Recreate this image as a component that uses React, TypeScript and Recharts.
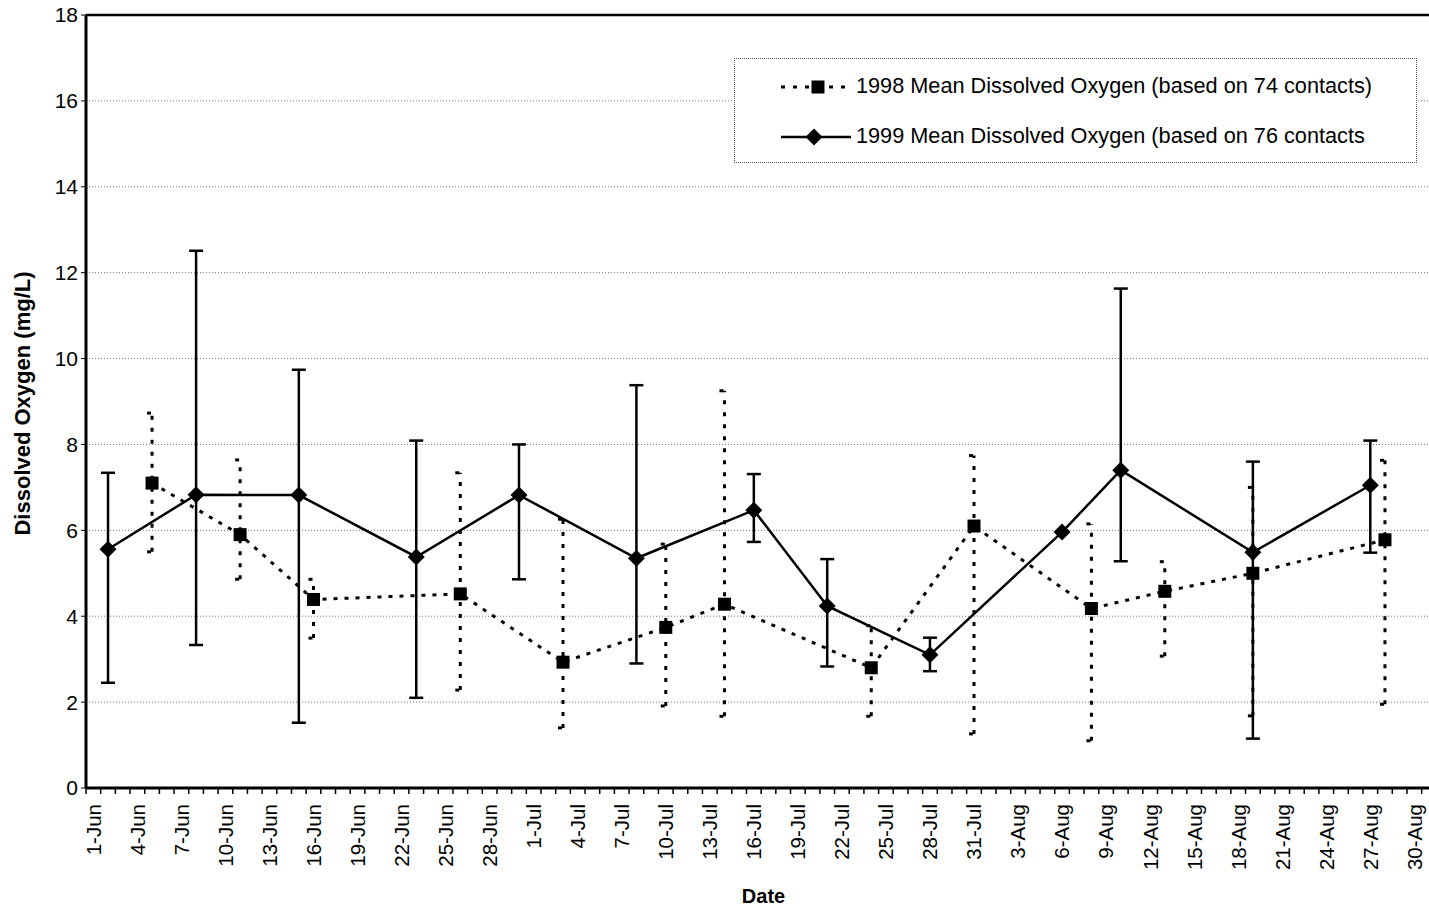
import React from 'react';
import {
  LineChart,
  Line,
  XAxis,
  YAxis,
  CartesianGrid,
  ErrorBar,
  ReferenceLine,
  Legend,
} from 'recharts';

// Date labels along the x axis, one every third day starting 1 June
const TICK_LABELS = [
  '1-Jun', '4-Jun', '7-Jun', '10-Jun', '13-Jun', '16-Jun', '19-Jun', '22-Jun', '25-Jun', '28-Jun',
  '1-Jul', '4-Jul', '7-Jul', '10-Jul', '13-Jul', '16-Jul', '19-Jul', '22-Jul', '25-Jul', '28-Jul', '31-Jul',
  '3-Aug', '6-Aug', '9-Aug', '12-Aug', '15-Aug', '18-Aug', '21-Aug', '24-Aug', '27-Aug', '30-Aug',
];

// Days are counted from 1 June (day 0)
const DAYS_1998 = [4, 10, 15, 25, 32, 39, 43, 53, 60, 68, 73, 79, 88];
const MEAN_1998 = [7.1, 5.9, 4.39, 4.52, 2.93, 3.74, 4.28, 2.8, 6.1, 4.18, 4.58, 5.0, 5.78];
const LOW_1998 = [5.5, 4.86, 3.49, 2.28, 1.4, 1.91, 1.67, 1.67, 1.26, 1.1, 3.07, 1.68, 1.95];
const HIGH_1998 = [8.73, 7.64, 4.86, 7.34, 6.26, 5.68, 9.25, 3.78, 7.74, 6.15, 5.27, 7.0, 7.63];

const DAYS_1999 = [1, 7, 14, 22, 29, 37, 45, 50, 57, 66, 70, 79, 87];
const MEAN_1999 = [5.56, 6.83, 6.82, 5.38, 6.82, 5.35, 6.47, 4.24, 3.1, 5.96, 7.4, 5.49, 7.05];
const LOW_1999 = [2.45, 3.33, 1.52, 2.1, 4.86, 2.9, 5.73, 2.83, 2.72, 5.96, 5.28, 1.15, 5.48];
const HIGH_1999 = [7.34, 12.51, 9.74, 8.09, 8.0, 9.38, 7.31, 5.33, 3.5, 5.96, 11.63, 7.6, 8.09];

const Y_TICKS = [0, 2, 4, 6, 8, 10, 12, 14, 16, 18];

const LABEL_1998 = '1998 Mean Dissolved Oxygen (based on 74 contacts)';
const LABEL_1999 = '1999 Mean Dissolved Oxygen (based on 76 contacts';

const FONT = 'Arial, "Liberation Sans", Helvetica, sans-serif';
const CHART_W = 1429;
const CHART_H = 910;
const Y_AXIS_W = 86;
const X_AXIS_H = 122;
const TOP = 15;
const X_MIN = -0.5;
const X_MAX = 91;
const DAY_PX = (CHART_W - Y_AXIS_W) / (X_MAX - X_MIN);

type Point = { day: number; value: number; err: [number, number] };

function buildSeries(days: number[], mean: number[], low: number[], high: number[]): Point[] {
  return days.map((day, i) => ({
    day,
    value: mean[i],
    err: [mean[i] - low[i], high[i] - mean[i]],
  }));
}

const series1998 = buildSeries(DAYS_1998, MEAN_1998, LOW_1998, HIGH_1998);
const series1999 = buildSeries(DAYS_1999, MEAN_1999, LOW_1999, HIGH_1999);

// one tick per day; labels only on every third day
const DAY_TICKS = Array.from({ length: 92 }, (_, i) => i);

const SquareDot = (props: any) => {
  const { cx, cy } = props;
  if (cx == null || cy == null) return null;
  return <rect x={cx - 6.5} y={cy - 6.5} width={13} height={13} fill="#000" />;
};

const DiamondDot = (props: any) => {
  const { cx, cy } = props;
  if (cx == null || cy == null) return null;
  const r = 8.5;
  return (
    <polygon
      points={`${cx},${cy - r} ${cx + r},${cy} ${cx},${cy + r} ${cx - r},${cy}`}
      fill="#000"
    />
  );
};

const DateTick = (props: any) => {
  const { x, y, payload } = props;
  const d = payload.value as number;
  const tx = x - DAY_PX / 2;
  const label = d % 3 === 0 ? TICK_LABELS[d / 3] : undefined;
  const ly = y + 16;
  return (
    <g>
      <line x1={tx} y1={y} x2={tx} y2={y + 6} stroke="#000" strokeWidth={1.5} />
      {label && (
        <text
          x={x}
          y={ly}
          transform={`rotate(-90 ${x} ${ly})`}
          textAnchor="end"
          dy="0.36em"
          fontFamily={FONT}
          fontSize={20.5}
          fill="#000"
        >
          {label}
        </text>
      )}
    </g>
  );
};

const YTitle = (props: any) => {
  const { viewBox } = props;
  const cx = viewBox.x + 22;
  const cy = viewBox.y + viewBox.height / 2 + 2;
  return (
    <text
      x={cx}
      y={cy}
      transform={`rotate(-90 ${cx} ${cy})`}
      textAnchor="middle"
      dominantBaseline="central"
      fontFamily={FONT}
      fontSize={22}
      fontWeight="bold"
      fill="#000"
    >
      Dissolved Oxygen (mg/L)
    </text>
  );
};

const XTitle = (props: any) => {
  const { viewBox } = props;
  const cx = viewBox.x + viewBox.width / 2 + 6;
  return (
    <text
      x={cx}
      y={CHART_H - 7}
      textAnchor="middle"
      fontFamily={FONT}
      fontSize={20}
      fontWeight="bold"
      fill="#000"
    >
      Date
    </text>
  );
};

const LegendBox = () => (
  <div
    style={{
      position: 'relative',
      width: 683,
      height: 105,
      boxSizing: 'border-box',
      border: '1px dotted #555',
      background: '#fff',
      fontFamily: FONT,
      fontSize: 21.7,
      color: '#000',
    }}
  >
    <svg width={76} height={24} style={{ position: 'absolute', left: 44, top: 16 }}>
      <line x1={2} y1={12} x2={74} y2={12} stroke="#000" strokeWidth={3} strokeDasharray="4 8" />
      <rect x={32.5} y={5.5} width={13} height={13} fill="#000" />
    </svg>
    <div style={{ position: 'absolute', left: 121, top: 14, whiteSpace: 'nowrap', lineHeight: '26px' }}>
      {LABEL_1998}
    </div>
    <svg width={76} height={24} style={{ position: 'absolute', left: 44, top: 66 }}>
      <line x1={2} y1={12} x2={72} y2={12} stroke="#000" strokeWidth={2.5} />
      <polygon points="35,3.5 43.5,12 35,20.5 26.5,12" fill="#000" />
    </svg>
    <div style={{ position: 'absolute', left: 121, top: 64, whiteSpace: 'nowrap', lineHeight: '26px' }}>
      {LABEL_1999}
    </div>
  </div>
);

export default function App() {
  return (
    <div style={{ position: 'absolute', left: 0, top: 0, width: CHART_W, height: CHART_H, background: '#fff' }}>
      <LineChart
        width={CHART_W}
        height={CHART_H}
        margin={{ top: TOP, right: 0, bottom: 0, left: 0 }}
      >
        <CartesianGrid horizontal vertical={false} stroke="#777" strokeDasharray="1 2" strokeWidth={1} />
        <XAxis
          type="number"
          dataKey="day"
          domain={[X_MIN, X_MAX]}
          ticks={DAY_TICKS}
          interval={0}
          allowDataOverflow
          height={X_AXIS_H}
          tickSize={0}
          tickMargin={0}
          tickLine={false}
          tick={<DateTick />}
          axisLine={{ stroke: '#000', strokeWidth: 3 }}
          label={<XTitle />}
        />
        <YAxis
          type="number"
          domain={[0, 18]}
          ticks={Y_TICKS}
          interval={0}
          width={Y_AXIS_W}
          tickSize={5}
          tickMargin={3}
          tickLine={{ stroke: '#000', strokeWidth: 1 }}
          axisLine={{ stroke: '#000', strokeWidth: 3 }}
          tick={{ fill: '#000', fontSize: 21, fontFamily: FONT }}
          label={<YTitle />}
        />
        <ReferenceLine y={18} stroke="#000" strokeWidth={2.5} />
        <Legend
          layout="vertical"
          verticalAlign="middle"
          align="center"
          content={<LegendBox />}
          wrapperStyle={{ left: 734, top: 58, width: 683, height: 105 }}
        />
        <Line
          data={series1998}
          dataKey="value"
          name={LABEL_1998}
          stroke="#000"
          strokeWidth={3}
          strokeDasharray="4 7"
          dot={(p: any) => <SquareDot key={`s-${p.index}`} {...p} />}
          activeDot={false}
          isAnimationActive={false}
        >
          <ErrorBar
            dataKey="err"
            direction="y"
            width={5}
            stroke="#000"
            strokeWidth={3}
            strokeDasharray="4 8"
            isAnimationActive={false}
          />
        </Line>
        <Line
          data={series1999}
          dataKey="value"
          name={LABEL_1999}
          stroke="#000"
          strokeWidth={2.5}
          dot={(p: any) => <DiamondDot key={`d-${p.index}`} {...p} />}
          activeDot={false}
          isAnimationActive={false}
        >
          <ErrorBar
            dataKey="err"
            direction="y"
            width={7}
            stroke="#000"
            strokeWidth={2.5}
            isAnimationActive={false}
          />
        </Line>
      </LineChart>
    </div>
  );
}
